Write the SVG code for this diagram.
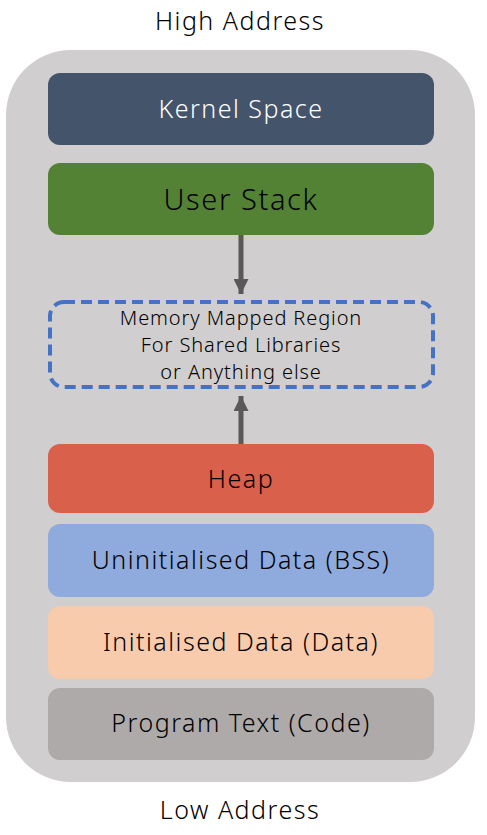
<svg xmlns="http://www.w3.org/2000/svg" width="487" height="835" viewBox="0 0 487 835">
<defs>
<style>
text{font-family:"Noto Sans","Open Sans",sans-serif;text-anchor:middle;dominant-baseline:central;font-weight:350}
.lbl{font-size:25px;fill:#000;letter-spacing:1.5px}
.wht{font-size:25px;fill:#fff;letter-spacing:1.5px}
.big{font-size:29px;fill:#000;letter-spacing:1.6px}
.sm{font-size:20px;fill:#000;letter-spacing:0.9px}
.conn{stroke:#595959;stroke-width:5;fill:none}
</style>
<marker id="ah" viewBox="0 0 10 10" refX="10" refY="5" markerWidth="3" markerHeight="3" orient="auto" markerUnits="strokeWidth"><path d="M0,0 L10,5 L0,10 z" fill="#595959"/></marker>
</defs>
<text class="lbl" x="240" y="20">High Address</text>
<text class="lbl" x="240" y="809">Low Address</text>
<rect id="bg" x="6" y="50" width="469" height="732" rx="65" fill="#D0CECE"/>
<g id="kernel"><rect x="48" y="73" width="386" height="72" rx="12" fill="#44546A"/><text class="wht" x="241" y="107.5">Kernel Space</text></g>
<g id="stack"><rect x="48" y="163" width="386" height="72" rx="12" fill="#548235"/><text class="big" x="241" y="198">User Stack</text></g>
<g id="mmap"><rect x="50" y="302" width="383" height="85" rx="14" fill="none" stroke="#4472C4" stroke-width="4" stroke-dasharray="11,6"/><text class="sm" x="241" y="317.5">Memory Mapped Region</text><text class="sm" x="241" y="344.5">For Shared Libraries</text><text class="sm" x="241" y="371.5">or Anything else</text></g>
<g id="heap"><rect x="48" y="444" width="386" height="69" rx="12" fill="#D9604A"/><text class="lbl" x="241" y="478">Heap</text></g>
<g id="bss"><rect x="48" y="524" width="386" height="73" rx="12" fill="#8FAADC"/><text class="lbl" x="241" y="559">Uninitialised Data (BSS)</text></g>
<g id="data"><rect x="48" y="606" width="386" height="73" rx="12" fill="#F8CBAD"/><text class="lbl" x="241" y="641">Initialised Data (Data)</text></g>
<g id="code"><rect x="48" y="688" width="386" height="72" rx="12" fill="#AEAAAA"/><text class="lbl" x="241" y="722">Program Text (Code)</text></g>
<g id="connectors">
<line class="conn" x1="241" y1="235" x2="241" y2="294" marker-end="url(#ah)"/>
<line class="conn" x1="241" y1="444" x2="241" y2="396" marker-end="url(#ah)"/>
</g>
</svg>
